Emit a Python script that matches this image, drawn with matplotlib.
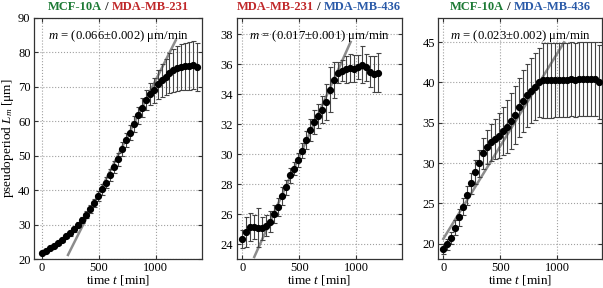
import matplotlib.pyplot as plt
import numpy as np

plt.rcParams['font.family'] = ['Liberation Serif', 'DejaVu Serif']
plt.rcParams['mathtext.fontset'] = 'custom'
plt.rcParams['mathtext.rm'] = 'Liberation Serif'
plt.rcParams['mathtext.it'] = 'Liberation Serif:italic'

GREEN = '#1d7a35'
RED = '#c0282a'
BLUE = '#2a5aa8'

# time axis: one sample every 35 min
t1 = np.arange(40) * 35
t2 = np.arange(35) * 35
t3 = np.arange(40) * 35

# MCF-10A / MDA-MB-231
L1 = [21.8, 22.4, 23.3, 23.9, 24.6, 25.6, 26.6, 27.5, 28.6, 30.0,
      31.3, 32.8, 34.5, 36.3, 38.3, 40.2, 42.2, 44.5, 46.8, 49.0,
      51.9, 54.5, 56.7, 59.3, 61.7, 64.0, 66.1, 67.8, 69.0, 70.8,
      71.9, 72.9, 73.9, 74.8, 75.4, 75.8, 76.0, 76.1, 76.3, 75.8]
e1 = [0.3, 0.4, 0.4, 0.5, 0.5, 0.6, 0.6, 0.7, 0.7, 0.8,
      0.9, 1.0, 1.1, 1.2, 1.4, 1.5, 1.6, 1.7, 1.8, 1.9,
      2.0, 2.1, 2.2, 2.3, 2.5, 2.7, 2.9, 3.2, 3.6, 4.2,
      4.8, 5.3, 5.8, 6.2, 6.5, 6.7, 6.8, 6.9, 7.0, 7.0]

# MDA-MB-231 / MDA-MB-436
L2 = [24.35, 24.8, 25.13, 25.13, 25.1, 25.04, 25.22, 25.49, 26.0, 26.49,
      27.24, 27.8, 28.6, 29.04, 29.62, 30.24, 30.93, 31.6, 32.13, 32.56,
      32.96, 33.47, 34.31, 34.98, 35.45, 35.58, 35.69, 35.76, 35.71, 35.85,
      35.98, 35.8, 35.51, 35.33, 35.45]
e2 = [0.6, 1.0, 0.95, 0.8, 1.3, 0.75, 0.7, 0.7, 0.6, 0.6,
      0.6, 0.5, 0.5, 0.45, 0.45, 0.5, 0.6, 0.75, 0.8, 0.8,
      0.9, 1.2, 1.5, 1.2, 0.7, 0.7, 0.9, 0.95, 0.9, 0.8,
      1.25, 0.9, 1.05, 1.2, 1.3]

# MCF-10A / MDA-MB-436
L3 = [19.3, 19.9, 20.7, 22.0, 23.25, 24.6, 26.0, 27.5, 28.85, 29.95,
      31.2, 32.0, 32.6, 33.0, 33.4, 34.0, 34.5, 35.2, 36.0, 36.9,
      37.7, 38.4, 39.0, 39.5, 40.0, 40.25, 40.25, 40.25, 40.3, 40.3,
      40.35, 40.35, 40.4, 40.35, 40.4, 40.4, 40.4, 40.4, 40.45, 40.1]
e3 = [0.6, 0.7, 0.8, 0.9, 1.0, 1.1, 1.2, 1.3, 1.5, 1.7,
      1.9, 2.1, 2.3, 2.5, 2.8, 3.0, 3.3, 3.5, 3.6, 3.7,
      3.8, 3.9, 4.0, 4.1, 4.3, 4.6, 4.6, 4.6, 4.6, 4.6,
      4.6, 4.6, 4.6, 4.6, 4.6, 4.6, 4.6, 4.6, 4.6, 4.6]

# linear fits: slope, error, intercept, fitted time range
fit_m = [0.066, 0.017, 0.023]
fit_dm = [0.002, 0.001, 0.002]
fit_b = [6.0, 21.35, 20.6]
fit_range = [(230, 1175), (105, 950), (0, 1060)]

titles = [('MCF-10A', GREEN, 'MDA-MB-231', RED),
          ('MDA-MB-231', RED, 'MDA-MB-436', BLUE),
          ('MCF-10A', GREEN, 'MDA-MB-436', BLUE)]
ylims = [(20, 90), (23, 39.1), (18.1, 48)]
yticks = [np.arange(20, 91, 10), np.arange(24, 39, 2), np.arange(20, 46, 5)]
xlims = [(-68, 1405), (-49, 1398), (-44, 1391)]
boxes = [(34, 202), (236.7, 401.7), (438.3, 601.7)]

W, H = 603, 288
fig = plt.figure(figsize=(W / 100, H / 100), dpi=100)
renderer = fig.canvas.get_renderer()

series = [(t1, L1, e1), (t2, L2, e2), (t3, L3, e3)]
for i, (t, L, e) in enumerate(series):
    x0, x1 = boxes[i]
    ax = fig.add_axes([x0 / W, (H - 259) / H, (x1 - x0) / W, 241 / H])
    ax.grid(True, ls=':', color='#a0a0a0', lw=0.8)
    ax.set_axisbelow(True)

    ts = np.array(fit_range[i])
    ax.plot(ts, fit_m[i] * ts + fit_b[i], color='#8c8c8c', lw=1.8, zorder=2)
    ax.errorbar(t, L, yerr=e, fmt='o', color='black', ms=4.2,
                ecolor='#444444', elinewidth=0.8, capsize=1.8,
                capthick=0.8, zorder=3)

    ax.set_xlim(*xlims[i])
    ax.set_ylim(*ylims[i])
    ax.set_xticks([0, 500, 1000])
    ax.set_yticks(yticks[i])
    ax.tick_params(direction='in', top=True, right=True, labelsize=9,
                   length=3, pad=2.5, color='#333333')
    for s in ax.spines.values():
        s.set_color('#333333')
        s.set_linewidth(0.9)
    ax.set_xlabel('time $t$ [min]', fontsize=9.5)
    ax.xaxis.set_label_coords(0.5, -0.06)

    ax.text(0.5, 0.925,
            '$m$ = (%.3f\u00b1%.3f) \u03bcm/min' % (fit_m[i], fit_dm[i]),
            transform=ax.transAxes, ha='center', va='center', fontsize=9.2)

    # two-coloured title, centred as a whole over the panel
    a, ca, b, cb = titles[i]
    ty = 1 - 7 / H
    parts = [(a, ca), (' / ', '#222222'), (b, cb)]
    texts = [fig.text(0, ty, s, ha='left', va='center', fontsize=9,
                      fontweight='bold', color=c) for s, c in parts]
    widths = [tx.get_window_extent(renderer).width for tx in texts]
    xpos = (x0 + x1) / 2 - sum(widths) / 2
    for tx, w in zip(texts, widths):
        tx.set_x(xpos / W)
        xpos += w

    if i == 0:
        ax.set_ylabel('pseudoperiod $L_m$ [\u03bcm]', fontsize=9.5)
        ax.yaxis.set_label_coords(-0.11, 0.5)

fig.savefig('out.png', dpi=100)
